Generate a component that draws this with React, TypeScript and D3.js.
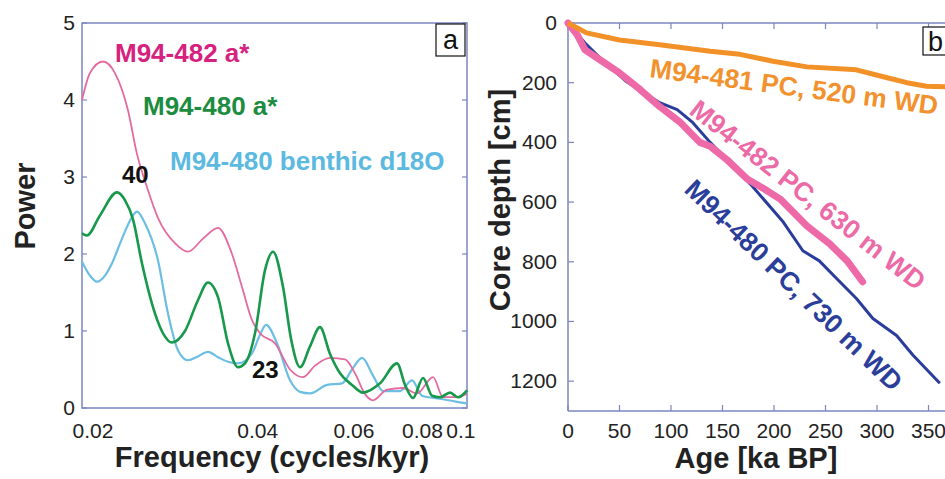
import * as d3 from "d3";

// ---- panel a: spectra (frequency in cycles/kyr, power) ----
const freq482 = [0.0191, 0.01975, 0.02086, 0.02194, 0.02317, 0.02407, 0.0251, 0.02629, 0.02824, 0.02983, 0.03178, 0.03385, 0.0359, 0.03745, 0.03906, 0.04039, 0.04303, 0.04583, 0.0484, 0.05091, 0.05423, 0.05776, 0.06025, 0.06284, 0.06499, 0.06893, 0.07373, 0.0782, 0.08366, 0.08726, 0.09255, 0.09653];
const pow482 = [4.0, 4.35, 4.5, 4.35, 3.87, 3.3, 2.87, 2.47, 2.14, 2.03, 2.2, 2.34, 2.0, 1.57, 1.14, 0.97, 0.84, 0.5, 0.4, 0.55, 0.65, 0.63, 0.45, 0.18, 0.1, 0.24, 0.26, 0.19, 0.4, 0.14, 0.14, 0.19];

const freq480 = [0.0191, 0.0195, 0.0206, 0.02213, 0.02288, 0.02367, 0.02458, 0.02596, 0.02696, 0.02789, 0.02946, 0.03111, 0.03245, 0.03385, 0.0353, 0.03682, 0.03792, 0.03955, 0.04125, 0.04267, 0.0445, 0.04602, 0.0478, 0.04985, 0.05199, 0.05423, 0.05656, 0.05949, 0.06231, 0.06693, 0.07189, 0.07435, 0.0769, 0.08021, 0.08331, 0.08616, 0.08986, 0.09294, 0.09653];
const pow480 = [2.27, 2.24, 2.5, 2.8, 2.7, 2.45, 1.88, 1.23, 0.95, 0.85, 1.0, 1.4, 1.63, 1.44, 0.84, 0.53, 0.58, 0.97, 1.79, 2.03, 1.57, 0.9, 0.53, 0.8, 1.05, 0.7, 0.45, 0.3, 0.2, 0.32, 0.58, 0.3, 0.13, 0.39, 0.16, 0.14, 0.2, 0.14, 0.23];

const freqD18O = [0.0191, 0.01975, 0.02034, 0.02104, 0.02167, 0.0226, 0.02357, 0.02407, 0.02489, 0.02629, 0.02742, 0.0286, 0.02983, 0.03111, 0.03245, 0.03385, 0.0353, 0.03682, 0.03906, 0.04039, 0.04143, 0.04339, 0.04583, 0.0478, 0.04985, 0.05355, 0.05704, 0.05949, 0.06205, 0.06499, 0.06778, 0.07281, 0.07658, 0.07987, 0.08616, 0.09255, 0.09653];
const powD18O = [1.9, 1.72, 1.64, 1.72, 1.88, 2.2, 2.48, 2.55, 2.4, 1.92, 1.23, 0.75, 0.62, 0.67, 0.73, 0.66, 0.6, 0.58, 0.71, 0.95, 1.08, 0.84, 0.36, 0.21, 0.19, 0.3, 0.32, 0.5, 0.65, 0.42, 0.22, 0.22, 0.36, 0.16, 0.12, 0.08, 0.06];

const freqTicks = [0.02, 0.04, 0.06, 0.08, 0.1];
const powerTicks = [0, 1, 2, 3, 4, 5];

// ---- panel b: age models (age ka BP, depth cm) ----
const age481 = [0, 18, 50, 89, 138, 167, 199, 232, 280, 306, 329, 348, 375];
const depth481 = [0, 33, 57, 73, 95, 105, 128, 147, 157, 180, 200, 212, 215];

const age482 = [0, 9, 16.5, 31, 50, 70, 89, 109, 128, 138, 154, 174, 191, 206, 232, 254, 271, 286];
const depth482 = [0, 40, 90, 123, 167, 223, 280, 333, 400, 413, 457, 523, 557, 590, 680, 740, 797, 867];

const age480 = [0, 11.6, 16.5, 31, 57, 89, 106, 121, 138, 154, 179, 209, 228, 244, 261, 280, 296, 319, 335, 361];
const depth480 = [0, 47, 67, 117, 197, 267, 290, 333, 400, 457, 547, 667, 763, 797, 857, 923, 990, 1047, 1113, 1207];

const ageTicks = [0, 50, 100, 150, 200, 250, 300, 350];
const depthTicks = [0, 200, 400, 600, 800, 1000, 1200];

const FONT = "'Liberation Sans', Arial, sans-serif";
const AXIS = "#7b86c2";

export default function App() {
  // panel a scales
  const xa = d3.scaleLog().domain([0.0191, 0.0965]).range([82, 467]);
  const ya = d3.scaleLinear().domain([0, 5]).range([408, 23]);
  const spec = d3
    .line<[number, number]>()
    .x((d) => xa(d[0]))
    .y((d) => ya(d[1]))
    .curve(d3.curveMonotoneX);
  const zip = (a: number[], b: number[]) => a.map((v, i) => [v, b[i]] as [number, number]);

  // panel b scales
  const xb = d3.scaleLinear().domain([0, 400]).range([568, 980]);
  const yb = d3.scaleLinear().domain([0, 1300]).range([23, 411]);
  const ageLine = d3
    .line<[number, number]>()
    .x((d) => xb(d[0]))
    .y((d) => yb(d[1]));

  return (
    <svg
      width={945}
      height={479}
      style={{ position: "absolute", left: 0, top: 0, background: "#fff" }}
      fontFamily={FONT}
    >
      {/* ---------- panel a ---------- */}
      <rect x={82} y={23} width={385} height={385} fill="none" stroke={AXIS} strokeWidth={1.5} />
      {powerTicks.map((t) => (
        <g key={"pt" + t}>
          <line x1={82} x2={87} y1={ya(t)} y2={ya(t)} stroke={AXIS} strokeWidth={1.2} />
          <line x1={462} x2={467} y1={ya(t)} y2={ya(t)} stroke={AXIS} strokeWidth={1.2} />
          <text x={75} y={ya(t) + 7} textAnchor="end" fontSize={21} fill="#222">
            {t}
          </text>
        </g>
      ))}
      {freqTicks.map((t, i) => (
        <text
          key={"ft" + t}
          x={xa(t)}
          y={438}
          textAnchor={i === freqTicks.length - 1 ? "end" : "middle"}
          fontSize={21}
          fill="#222"
        >
          {t}
        </text>
      ))}

      <path d={spec(zip(freqD18O, powD18O)) || ""} fill="none" stroke="#6cbee2" strokeWidth={2.2} />
      <path d={spec(zip(freq482, pow482)) || ""} fill="none" stroke="#e46aa0" strokeWidth={1.8} />
      <path d={spec(zip(freq480, pow480)) || ""} fill="none" stroke="#17984a" strokeWidth={2.6} />

      <text x={115} y={62} fontSize={26} fontWeight="bold" fill="#d6217e">M94-482 a*</text>
      <text x={143} y={115} fontSize={26} fontWeight="bold" fill="#1c8c40">M94-480 a*</text>
      <text x={170} y={170} fontSize={26} fontWeight="bold" fill="#5cb9df">M94-480 benthic d18O</text>
      <text x={122} y={183} fontSize={24} fontWeight="bold" fill="#111">40</text>
      <text x={252} y={378} fontSize={24} fontWeight="bold" fill="#111">23</text>

      <rect x={436} y={24} width={29} height={32} fill="#fff" stroke="#111" strokeWidth={1.2} />
      <text x={450.5} y={49} textAnchor="middle" fontSize={27} fill="#111">a</text>

      <text x={272} y={467} textAnchor="middle" fontSize={29} fontWeight="bold" fill="#222">
        Frequency (cycles/kyr)
      </text>
      <text transform="translate(35,206) rotate(-90)" textAnchor="middle" fontSize={29} fontWeight="bold" fill="#222">
        Power
      </text>

      {/* ---------- panel b ---------- */}
      <line x1={568} x2={568} y1={23} y2={411} stroke={AXIS} strokeWidth={1.5} />
      <line x1={568} x2={980} y1={23} y2={23} stroke={AXIS} strokeWidth={1.5} />
      <line x1={568} x2={980} y1={411} y2={411} stroke={AXIS} strokeWidth={1.5} />
      {ageTicks.map((t) => (
        <g key={"at" + t}>
          <line x1={xb(t)} x2={xb(t)} y1={23} y2={29} stroke={AXIS} strokeWidth={1.2} />
          <line x1={xb(t)} x2={xb(t)} y1={405} y2={411} stroke={AXIS} strokeWidth={1.2} />
          <text x={xb(t)} y={438} textAnchor="middle" fontSize={21} fill="#222">
            {t}
          </text>
        </g>
      ))}
      {depthTicks.map((t) => (
        <g key={"dt" + t}>
          <line x1={568} x2={574} y1={yb(t)} y2={yb(t)} stroke={AXIS} strokeWidth={1.2} />
          <text x={557} y={yb(t) + 7} textAnchor="end" fontSize={21} fill="#222">
            {t}
          </text>
        </g>
      ))}

      <path d={ageLine(zip(age480, depth480)) || ""} fill="none" stroke="#2b3d9c" strokeWidth={3} strokeLinejoin="round" />
      <path d={ageLine(zip(age482, depth482)) || ""} fill="none" stroke="#ee69a8" strokeWidth={7} strokeLinejoin="round" strokeLinecap="round" />
      <path d={ageLine(zip(age481, depth481)) || ""} fill="none" stroke="#f39129" strokeWidth={5} strokeLinejoin="round" />

      <text transform="translate(649,77) rotate(7.5)" fontSize={26.5} fontWeight="bold" fill="#f2922e">
        M94-481 PC, 520 m WD
      </text>
      <text transform="translate(688,113) rotate(38)" fontSize={26.5} fontWeight="bold" fill="#ec6aa6">
        M94-482 PC, 630 m WD
      </text>
      <text transform="translate(683,191) rotate(44)" fontSize={26.5} fontWeight="bold" fill="#2a3e9a">
        M94-480 PC, 730 m WD
      </text>

      <rect x={923} y={27} width={30} height={28} fill="#fff" stroke="#111" strokeWidth={1.2} />
      <text x={928} y={51} fontSize={27} fill="#111">b</text>

      <text x={756} y={468} textAnchor="middle" fontSize={29} fontWeight="bold" fill="#222">
        Age [ka BP]
      </text>
      <text transform="translate(510,200) rotate(-90)" textAnchor="middle" fontSize={29} fontWeight="bold" fill="#222">
        Core depth [cm]
      </text>
    </svg>
  );
}
